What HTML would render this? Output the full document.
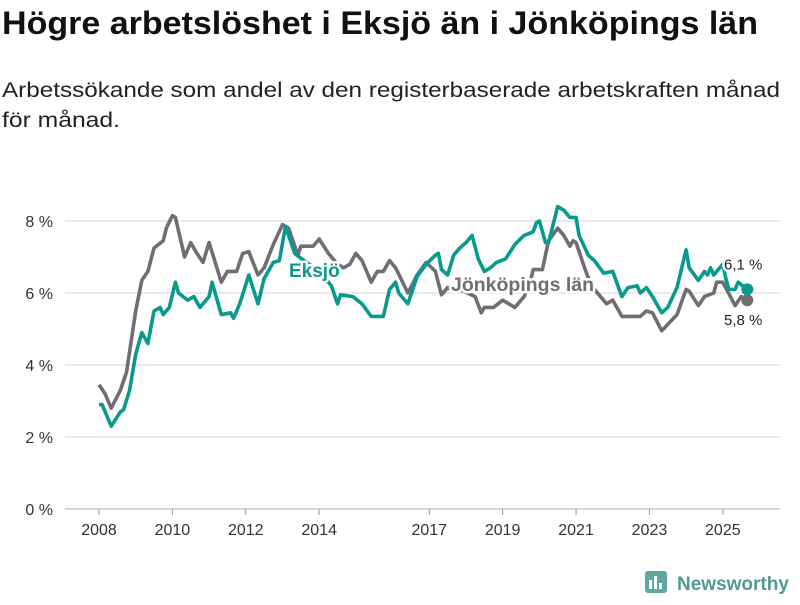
<!DOCTYPE html>
<html><head><meta charset="utf-8"><style>
body{margin:0;background:#fff;width:800px;height:600px;overflow:hidden;font-family:"Liberation Sans",sans-serif;}
</style></head><body>
<svg width="800" height="600" xmlns="http://www.w3.org/2000/svg" font-family="Liberation Sans, sans-serif">
<text x="2" y="34" font-size="32" font-weight="bold" fill="#111" textLength="756" lengthAdjust="spacingAndGlyphs">Högre arbetslöshet i Eksjö än i Jönköpings län</text>
<text x="2" y="97" font-size="21" fill="#222" textLength="778" lengthAdjust="spacingAndGlyphs">Arbetssökande som andel av den registerbaserade arbetskraften månad</text>
<text x="2" y="127" font-size="21" fill="#222" textLength="118" lengthAdjust="spacingAndGlyphs">för månad.</text>
<g id="grid"></g><g id="axes"></g><g id="lines"></g><g id="labels"></g>
<g>
<rect x="645" y="571" width="22" height="22" rx="3" fill="#5fa8a0"/>
<rect x="649" y="580" width="3" height="9" fill="#fff"/><rect x="654" y="576" width="3" height="13" fill="#fff"/><rect x="659" y="583" width="3" height="6" fill="#fff"/>
<text x="677" y="590" font-size="19" font-weight="bold" fill="#4f9a92">Newsworthy</text>
</g>
</svg>
<script>
const yTicks=[0,2,4,6,8];
const yTickLabels=["0 %","2 %","4 %","6 %","8 %"];
const xTickMonths=[0,24,48,72,108,132,156,180,204];
const xTickLabels=["2008","2010","2012","2014","2017","2019","2021","2023","2025"];
const jkpMonths=[0,2,4,7,9,12,14,16,18,21,22,24,25,28,30,32,34,36,40,42,45,47,49,52,54,57,60,62,65,66,70,72,75,78,80,82,84,86,89,91,93,95,97,101,104,107,110,112,114,118,123,125,126,129,132,134,136,139,141,142,145,147,150,152,154,155,156,159,161,164,166,168,171,177,179,181,184,189,192,193,196,198,201,202,204,208,210,212];
const jkpValues=[3.45,3.2,2.8,3.3,3.8,5.5,6.35,6.6,7.25,7.45,7.8,8.15,8.1,7.0,7.4,7.1,6.85,7.4,6.3,6.6,6.6,7.1,7.15,6.5,6.7,7.35,7.9,7.8,7.05,7.3,7.3,7.5,7.1,6.8,6.7,6.8,7.1,6.9,6.3,6.6,6.6,6.9,6.7,6.0,6.5,6.85,6.6,5.95,6.15,6.1,5.9,5.45,5.6,5.6,5.8,5.7,5.6,5.9,6.3,6.65,6.65,7.45,7.8,7.6,7.3,7.45,7.4,6.65,6.2,5.9,5.7,5.8,5.35,5.35,5.5,5.45,4.95,5.4,6.1,6.05,5.65,5.9,6.0,6.3,6.3,5.65,5.9,5.8];
const eksMonths=[0,1,4,7,8,10,12,14,16,18,20,21,23,25,26,29,31,33,36,37,40,43,44,46,49,52,54,57,59,61,64,67,72,76,78,79,83,86,89,93,95,97,98,101,104,107,110,111,112,114,116,118,120,122,124,126,128,130,133,136,139,142,143,144,146,147,150,152,154,156,157,160,162,165,168,171,173,176,177,179,181,184,186,189,192,193,196,198,199,200,201,204,205,206,208,209,212];
const eksValues=[2.9,2.9,2.3,2.7,2.75,3.3,4.3,4.9,4.6,5.5,5.6,5.4,5.6,6.3,6.0,5.8,5.9,5.6,5.9,6.3,5.4,5.45,5.3,5.7,6.5,5.7,6.4,6.85,6.9,7.85,7.1,6.9,6.6,6.2,5.7,5.95,5.9,5.7,5.35,5.35,6.1,6.3,6.0,5.7,6.45,6.8,7.05,7.1,6.65,6.5,7.05,7.25,7.4,7.6,6.95,6.6,6.7,6.85,6.95,7.35,7.6,7.7,7.95,8.0,7.4,7.4,8.4,8.3,8.1,8.1,7.6,7.05,6.9,6.55,6.6,5.9,6.15,6.2,6.0,6.15,5.9,5.45,5.6,6.15,7.2,6.7,6.35,6.6,6.5,6.7,6.5,6.8,6.4,6.1,6.1,6.3,6.1];
const NS='http://www.w3.org/2000/svg';
const X=m=>99+m*3.058, Y=v=>509-v*36;
function mk(tag,attrs,parent){const e=document.createElementNS(NS,tag);for(const k in attrs)e.setAttribute(k,attrs[k]);document.getElementById(parent).appendChild(e);return e;}
yTicks.forEach((t,i)=>{
  const l=mk('line',{x1:65,x2:780,y1:Y(t),y2:Y(t),stroke:t===0?'#ccc':'#ddd','stroke-width':t===0?1.5:1.2},'grid');
  
  
  const tx=mk('text',{x:53,y:Y(t)+6,'text-anchor':'end','font-size':16,fill:'#333'},'axes');
  tx.textContent=yTickLabels[i];
  
  
});
xTickMonths.forEach((m,i)=>{
  const l=mk('line',{x1:X(m),x2:X(m),y1:509,y2:515,stroke:'#999','stroke-width':1},'axes');
  
  
  const tx=mk('text',{x:X(m),y:535,'text-anchor':'middle','font-size':16,fill:'#333'},'axes');
  tx.textContent=xTickLabels[i];
  
  
});
function line(ms,vs,color,name){
  const d=ms.map((m,i)=>(i?'L':'M')+X(m).toFixed(1)+','+Y(vs[i]).toFixed(1)).join('');
  const p=mk('path',{d:d,fill:'none',stroke:color,'stroke-width':3.6,'stroke-linejoin':'round'},'lines');
  
  
  const n=ms.length-1;
  const c=mk('circle',{cx:X(ms[n]),cy:Y(vs[n]),r:6,fill:color},'lines');
  
  
}
line(jkpMonths,jkpValues,'#6f6e73','jonkoping');
line(eksMonths,eksValues,'#079a8d','eksjo');
function lab(x,y,txt,color,size,bold,name,halo){
  const t=mk('text',{x:x,y:y,'font-size':size,'font-weight':bold?'bold':'normal',fill:color,stroke:halo?'#fff':'none','stroke-width':halo?5:0,'paint-order':'stroke','stroke-linejoin':'round'},'labels');
  t.textContent=txt;
  
  
}
lab(289,277,'Eksjö','#079a8d',19,true,'eksjo-series-label',true);
lab(451,291,'Jönköpings län','#6f6e73',19.5,true,'jonkoping-series-label',true);
const eN=eksValues.length-1, jN=jkpValues.length-1;
lab(724,Y(eksValues[eN])-20,String(eksValues[eN]).replace('.',',')+' %','#222',15,false,'eksjo-end-value',true);
lab(724,Y(jkpValues[jN])+25,String(jkpValues[jN]).replace('.',',')+' %','#222',15,false,'jonkoping-end-value',true);
</script>
</body></html>
